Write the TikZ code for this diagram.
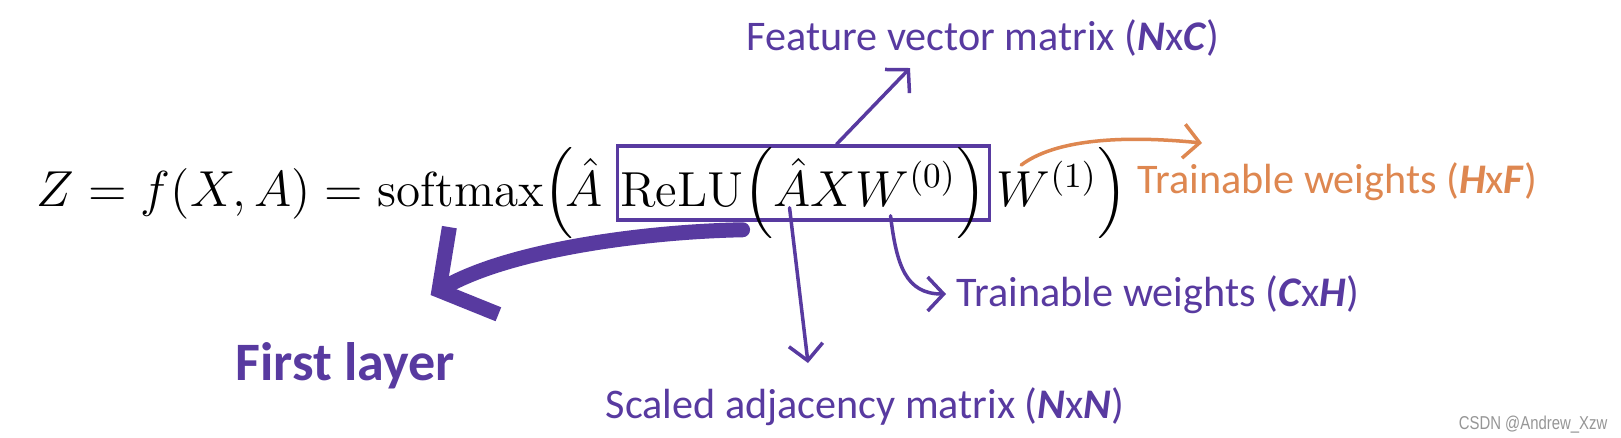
\documentclass[tikz,border=0pt]{standalone}
\usepackage{amsmath}
\usepackage{fontspec}
\usetikzlibrary{arrows.meta,positioning}
\newfontfamily\calibri{Carlito}
\newfontfamily\wmfont[FakeStretch=0.8]{Liberation Sans}
\definecolor{gcnPurple}{RGB}{88,58,160}
\definecolor{gcnOrange}{RGB}{222,135,80}
\definecolor{wmGray}{RGB}{150,150,150}
\tikzset{
  eqtext/.style={inner sep=0pt,font=\fontsize{14}{17}\selectfont},
  note/.style={inner sep=0pt,anchor=base west,text=gcnPurple,font=\calibri\fontsize{12}{14}\selectfont},
  pointer/.style={draw=gcnPurple,line width=0.35mm,line cap=round,line join=round,-{Straight Barb[length=1.6mm,width=3.4mm]}},
  fatpointer/.style={draw=gcnPurple,line width=1.5mm,line cap=round,line join=round,-{Straight Barb[length=4mm,width=10mm]}},
}

\begin{document}
\begin{tikzpicture}[x=0.1mm,y=-0.1mm]
\useasboundingbox[fill=white] (0,0) rectangle (1621,437);
% formula
\node[eqtext,anchor=base west] (lhs) at (36,206) {$Z = f(X, A) = \mathrm{softmax}\Big(\!\hat{A}$};
\node[eqtext,base right=1.2mm of lhs,draw=gcnPurple,line width=0.35mm,inner xsep=0.3mm,text height=6mm,text depth=1.4mm] (relu) {$\mathrm{ReLU}\Big( \hat{A}XW^{(0)}\Big)$};
\node[eqtext,base right=0.5mm of relu] (rhs) {$W^{(1)}\Big)$};
% labels
\node[note] (feat) at (746,50) {Feature vector matrix (\textbf{\textit{N}}x\textbf{\textit{C}})};
\node[note,text=gcnOrange] (wout) at (1137,193) {Trainable weights (\textbf{\textit{H}}x\textbf{\textit{F}})};
\node[note] (win) at (956,306) {Trainable weights (\textbf{\textit{C}}x\textbf{\textit{H}})};
\node[note] (adj) at (605,418) {Scaled adjacency matrix (\textbf{\textit{N}}x\textbf{\textit{N}})};
\node[note,font=\calibri\bfseries\fontsize{15.4}{18}\selectfont] (first) at (235,380) {First layer};
\node[anchor=base east,inner sep=0pt,text=wmGray,font=\wmfont\fontsize{5.3}{6}\selectfont] (wm) at (1608,429) {CSDN @Andrew\_Xzw};
% arrows
\draw[pointer] ([shift={(221,0)}]relu.north west) -- ([shift={(164,18)}]feat.base west);
\draw[pointer] ([shift={(174,-14)}]relu.south west) -- ([shift={(203,-55)}]adj.base west);
\draw[pointer] ([shift={(275,-6)}]relu.south west) .. controls +(6,50) and +(-40,0) .. ([shift={(-10,-12)}]win.base west);
\draw[pointer,draw=gcnOrange] ([shift={(25,-41)}]rhs.base west) .. controls +(40,-30) and +(-60,-6) .. ([shift={(65,-50)}]wout.base west);
\draw[fatpointer] ([shift={(127,8)}]relu.south west) .. controls +(-100,2) and +(80,-45) .. ([shift={(-25,-85)}]first.base east);
\end{tikzpicture}
\end{document}
